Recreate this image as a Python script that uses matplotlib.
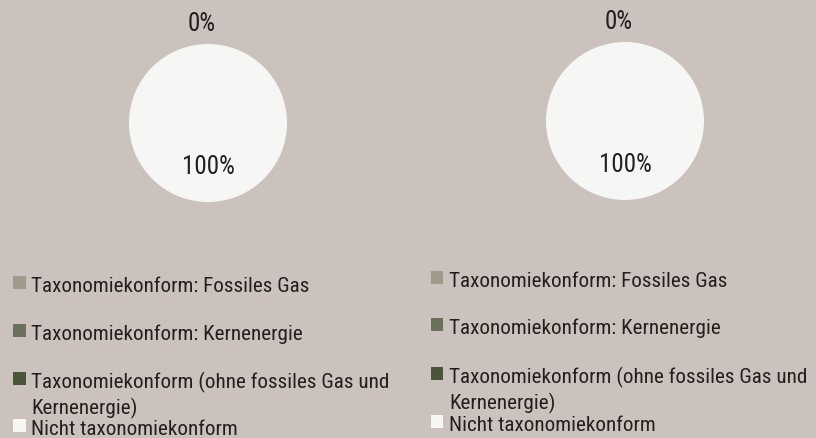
import matplotlib.pyplot as plt
from matplotlib.patches import Rectangle
import numpy as np

FONT = ['Roboto Condensed', 'DejaVu Sans']
plt.rcParams['font.family'] = FONT

categories = ["Taxonomiekonform: Fossiles Gas",
              "Taxonomiekonform: Kernenergie",
              "Taxonomiekonform (ohne fossiles Gas und\nKernenergie)",
              "Nicht taxonomiekonform"]
values_left = [0, 0, 0, 100]
values_right = [0, 0, 0, 100]
colors = ["#9c9b8c", "#6b705c", "#4b5539", "#f6f6f4"]

bg = "#cbc2bd"
txt = "#231f20"

fig = plt.figure(figsize=(8.16, 4.39), dpi=100)
fig.patch.set_facecolor(bg)
W, H = 816, 439


def draw_pie(cx, cy, r, values):
    ax = fig.add_axes([(cx - r) / W, 1 - (cy + r) / H, 2 * r / W, 2 * r / H])
    ax.set_facecolor(bg)
    wedges, _ = ax.pie(values, colors=colors, startangle=90, counterclock=False,
                       radius=1, wedgeprops=dict(linewidth=0))
    ax.set_xlim(-1, 1)
    ax.set_ylim(-1, 1)
    ax.set_aspect('auto')
    ax.axis('off')
    total = sum(values)
    done = set()
    for w, v in zip(wedges, values):
        pct = f"{v / total * 100:.0f}%"
        if pct in done:
            continue
        done.add(pct)
        ang = np.deg2rad((w.theta1 + w.theta2) / 2)
        d = 1.27 if v == 0 else 0.55
        ax.text(d * np.cos(ang) - (0.08 if v == 0 else 0), d * np.sin(ang), pct,
                ha='center', va='center', fontsize=18, color=txt, clip_on=False)


def draw_legend(x0, baselines):
    for lab, col, yb in zip(categories, colors, baselines):
        fig.patches.append(Rectangle((x0 / W, 1 - (yb - 2) / H), 12.5 / W, 13 / H,
                                     transform=fig.transFigure, facecolor=col,
                                     edgecolor='none'))
        lines = lab.split("\n")
        for k, line in enumerate(lines):
            fig.text((x0 + 18) / W, 1 - (yb + 26 * k) / H, line, ha='left',
                     va='baseline', fontsize=15.2, color=txt)


draw_pie(208, 124, 79, values_left)
draw_pie(625, 122, 79, values_right)

draw_legend(13, [292, 340, 388, 435])
draw_legend(431, [287, 334, 383, 431])

fig.savefig("out.png", dpi=100, facecolor=bg)
